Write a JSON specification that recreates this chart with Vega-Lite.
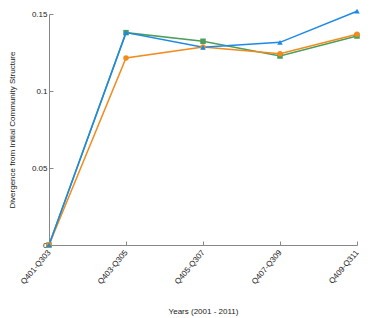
{
  "$schema": "https://vega.github.io/schema/vega-lite/v6.json",
  "width": 308,
  "height": 231,
  "autosize": "none",
  "padding": {"left": 49, "top": 14, "right": 17, "bottom": 73},
  "config": {
    "view": {"stroke": null},
    "font": "Liberation Sans",
    "axis": {
      "grid": false,
      "domainColor": "#888888",
      "tickColor": "#888888",
      "labelColor": "#222222",
      "titleColor": "#222222",
      "labelFontSize": 8,
      "titleFontSize": 8,
      "titleFontWeight": "normal",
      "labelFont": "Liberation Sans",
      "titleFont": "Liberation Sans"
    }
  },
  "data": {
    "values": [
      {"period": "Q401-Q303", "series": "A", "value": 0},
      {"period": "Q403-Q305", "series": "A", "value": 0.1379},
      {"period": "Q405-Q307", "series": "A", "value": 0.1323},
      {"period": "Q407-Q309", "series": "A", "value": 0.1227},
      {"period": "Q409-Q311", "series": "A", "value": 0.1357},
      {"period": "Q401-Q303", "series": "B", "value": 0},
      {"period": "Q403-Q305", "series": "B", "value": 0.1214},
      {"period": "Q405-Q307", "series": "B", "value": 0.1286},
      {"period": "Q407-Q309", "series": "B", "value": 0.1242},
      {"period": "Q409-Q311", "series": "B", "value": 0.1368},
      {"period": "Q401-Q303", "series": "C", "value": 0},
      {"period": "Q403-Q305", "series": "C", "value": 0.1379},
      {"period": "Q405-Q307", "series": "C", "value": 0.1284},
      {"period": "Q407-Q309", "series": "C", "value": 0.1316},
      {"period": "Q409-Q311", "series": "C", "value": 0.1518}
    ]
  },
  "encoding": {
    "x": {
      "field": "period", "type": "ordinal",
      "scale": {"type": "point", "padding": 0},
      "axis": {"title": "Years (2001 - 2011)", "labelAngle": -50, "tickSize": -4, "labelPadding": 10, "titlePadding": 22}
    },
    "y": {
      "field": "value", "type": "quantitative",
      "scale": {"domain": [0, 0.15], "nice": false},
      "axis": {"title": "Divergence from Initial Community Structure", "values": [0, 0.05, 0.1, 0.15], "labelExpr": "toString(datum.value)", "tickSize": -4, "labelPadding": 6, "titlePadding": 15}
    },
    "color": {
      "field": "series", "type": "nominal",
      "scale": {"domain": ["A", "B", "C"], "range": ["#4c9e5c", "#f28a1c", "#1e88e5"]},
      "legend": null
    }
  },
  "layer": [
    {"mark": {"type": "line", "strokeWidth": 1.5, "clip": false}},
    {
      "mark": {"type": "point", "filled": true, "opacity": 1, "size": 30, "clip": false},
      "encoding": {
        "shape": {
          "field": "series", "type": "nominal",
          "scale": {"domain": ["A", "B", "C"], "range": ["square", "circle", "triangle-up"]},
          "legend": null
        }
      }
    }
  ]
}
